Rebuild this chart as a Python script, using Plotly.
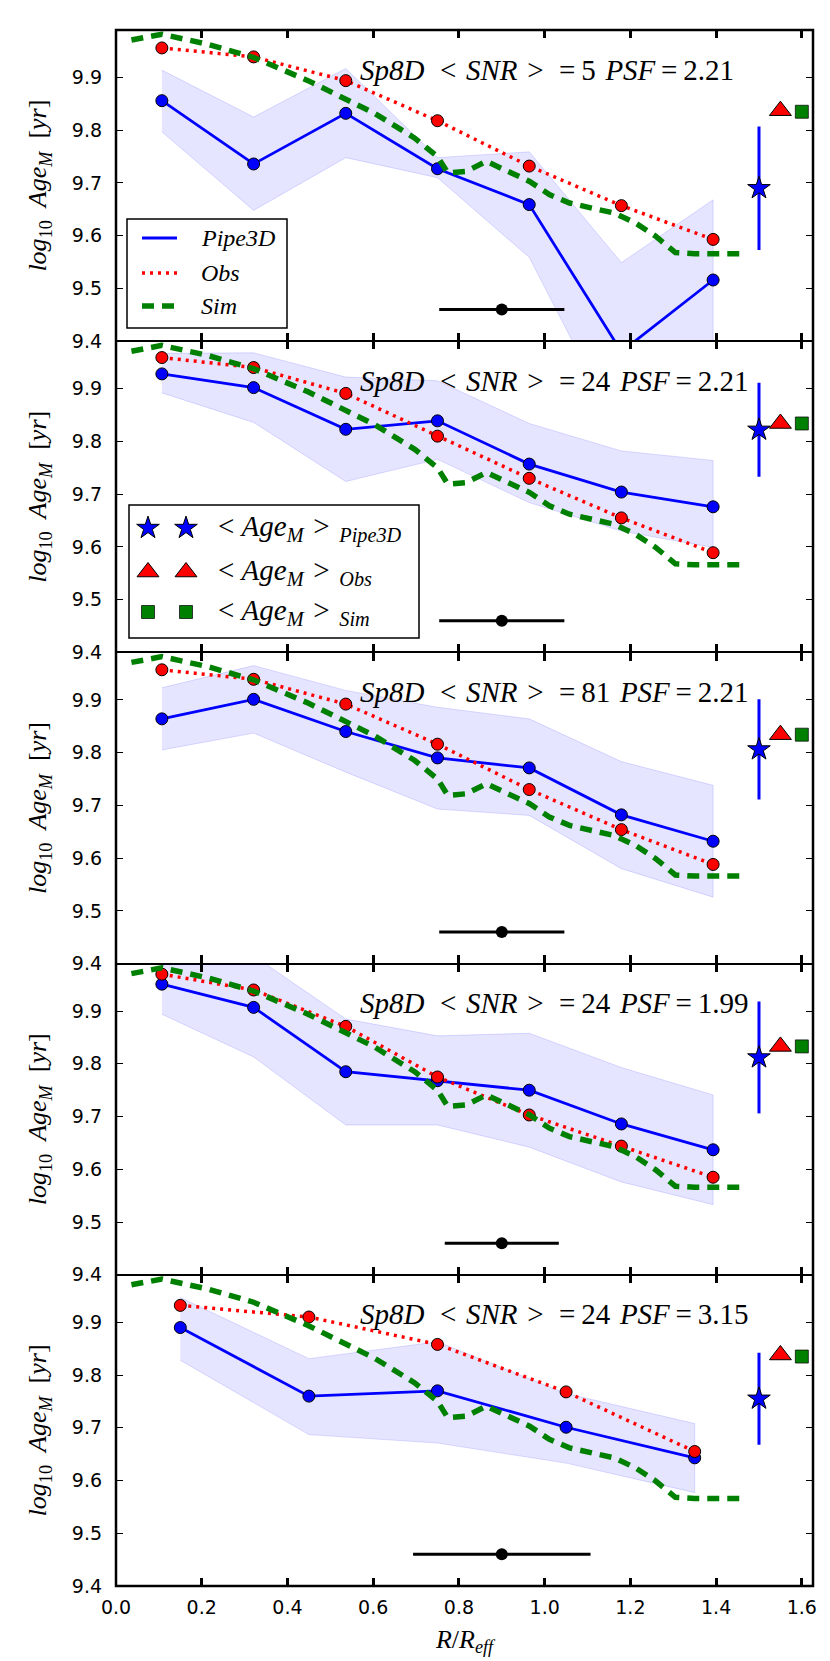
import plotly.graph_objects as go

# ---------------- data ----------------
R7 = [0.107, 0.321, 0.536, 0.750, 0.964, 1.179, 1.393]
R5 = [0.15, 0.45, 0.75, 1.05, 1.35]

SNR = [5, 24, 81, 24, 24]
PSF = [2.21, 2.21, 2.21, 1.99, 3.15]

PIPE_1 = [9.856, 9.736, 9.832, 9.727, 9.659, 9.380, 9.516]
OBS_1 = [9.956, 9.939, 9.894, 9.818, 9.732, 9.657, 9.593]
UP_1 = [9.914, 9.825, 9.917, 9.748, 9.759, 9.549, 9.668]
LO_1 = [9.797, 9.648, 9.748, 9.710, 9.559, 9.220, 9.300]

PIPE_2 = [9.928, 9.902, 9.823, 9.839, 9.757, 9.704, 9.676]
OBS_2 = [9.959, 9.940, 9.891, 9.810, 9.730, 9.655, 9.589]
UP_2 = [9.967, 9.968, 9.922, 9.915, 9.834, 9.782, 9.764]
LO_2 = [9.892, 9.836, 9.724, 9.766, 9.684, 9.630, 9.599]

PIPE_3 = [9.864, 9.901, 9.840, 9.790, 9.771, 9.682, 9.632]
OBS_3 = [9.957, 9.939, 9.892, 9.816, 9.730, 9.654, 9.588]
UP_3 = [9.923, 9.965, 9.918, 9.886, 9.864, 9.783, 9.738]
LO_3 = [9.805, 9.837, 9.763, 9.693, 9.681, 9.580, 9.526]

PIPE_4 = [9.951, 9.907, 9.785, 9.768, 9.750, 9.686, 9.637]
OBS_4 = [9.970, 9.940, 9.871, 9.775, 9.703, 9.644, 9.585]
UP_4 = [10.010, 10.005, 9.885, 9.853, 9.858, 9.793, 9.741]
LO_4 = [9.894, 9.813, 9.684, 9.684, 9.642, 9.576, 9.533]

PIPE_5 = [9.890, 9.760, 9.770, 9.701, 9.643]
OBS_5 = [9.932, 9.910, 9.858, 9.768, 9.655]
UP_5 = [9.947, 9.831, 9.863, 9.765, 9.708]
LO_5 = [9.828, 9.687, 9.671, 9.633, 9.577]

SIM_R = [0.036, 0.107, 0.214, 0.321, 0.448, 0.536, 0.603, 0.697, 0.750, 0.774,
         0.817, 0.864, 0.918, 0.965, 1.011, 1.058, 1.112, 1.162, 1.212, 1.259,
         1.305, 1.350, 1.464]
SIM_AGE = [9.971, 9.982, 9.963, 9.938, 9.894, 9.858, 9.832, 9.785, 9.750, 9.719,
           9.722, 9.741, 9.722, 9.703, 9.678, 9.662, 9.652, 9.643, 9.624, 9.599,
           9.568, 9.566, 9.566]

MEAN_R = [1.50, 1.55, 1.60]            # star, triangle, square positions
MEAN_PIPE = [9.690, 9.822, 9.806, 9.812, 9.755]
MEAN_PIPE_ERR = [0.117, 0.089, 0.095, 0.106, 0.087]
MEAN_OBS = [9.837, 9.834, 9.834, 9.833, 9.838]
MEAN_SIM = [9.835, 9.834, 9.834, 9.833, 9.835]

PSF_R = 0.9
PSF_Y = 9.46
PSF_HALF = [0.146, 0.146, 0.146, 0.133, 0.207]

PANELS = [
    (R7, PIPE_1, OBS_1, UP_1, LO_1),
    (R7, PIPE_2, OBS_2, UP_2, LO_2),
    (R7, PIPE_3, OBS_3, UP_3, LO_3),
    (R7, PIPE_4, OBS_4, UP_4, LO_4),
    (R5, PIPE_5, OBS_5, UP_5, LO_5),
]

# ---------------- style ----------------
BLUE = "#0000ff"
RED = "#ff0000"
GREEN = "#008000"
SERIF = "Liberation Serif"
SANS = "DejaVu Sans"
W, H = 830, 1661
ML, MR, MT, MB = 108, 25, 22, 83
N = 5
YR = [9.4, 9.99]
XR = [0, 1.626]
LW = 1.25  # each axis line; two adjacent panels add up at the shared border

RED_DASH = "3px,5px"
GREEN_DASH = "12px,8px"

S3 = "\u2004"   # three-per-em space
TH = "\u2009"   # thin space

fig = go.Figure()


def ax_names(i):
    s = "" if i == 0 else str(i + 1)
    return "x" + s, "y" + s, "xaxis" + s, "yaxis" + s


for i, (r, pipe, obs, up, lo) in enumerate(PANELS):
    xa, ya, xname, yname = ax_names(i)
    # band
    fig.add_trace(go.Scatter(
        x=list(r) + list(r)[::-1], y=list(up) + list(lo)[::-1],
        fill="toself", fillcolor="rgba(0,0,255,0.10)",
        line=dict(color="rgba(0,0,255,0.13)", width=1),
        mode="lines", hoverinfo="skip", showlegend=False, xaxis=xa, yaxis=ya))
    # Pipe3D
    fig.add_trace(go.Scatter(
        x=r, y=pipe, mode="lines+markers",
        line=dict(color=BLUE, width=2.8),
        marker=dict(symbol="circle", size=12, color=BLUE, line=dict(color="black", width=1)),
        showlegend=False, xaxis=xa, yaxis=ya))
    # Obs
    fig.add_trace(go.Scatter(
        x=r, y=obs, mode="lines+markers",
        line=dict(color=RED, width=3.5, dash=RED_DASH),
        marker=dict(symbol="circle", size=12, color=RED, line=dict(color="black", width=1)),
        showlegend=False, xaxis=xa, yaxis=ya))
    # Sim
    fig.add_trace(go.Scatter(
        x=SIM_R, y=SIM_AGE, mode="lines",
        line=dict(color=GREEN, width=5.5, dash=GREEN_DASH),
        showlegend=False, xaxis=xa, yaxis=ya))
    # mean values
    fig.add_trace(go.Scatter(
        x=[MEAN_R[0]], y=[MEAN_PIPE[i]], mode="markers",
        error_y=dict(type="data", array=[MEAN_PIPE_ERR[i]], color=BLUE, thickness=3, width=0),
        marker=dict(symbol="star", size=17, color=BLUE, line=dict(color="black", width=1)),
        showlegend=False, xaxis=xa, yaxis=ya))
    fig.add_trace(go.Scatter(
        x=[MEAN_R[1]], y=[MEAN_OBS[i]], mode="markers",
        marker=dict(symbol="triangle-up", size=19, color=RED, line=dict(color="black", width=1)),
        showlegend=False, xaxis=xa, yaxis=ya))
    fig.add_trace(go.Scatter(
        x=[MEAN_R[2]], y=[MEAN_SIM[i]], mode="markers",
        marker=dict(symbol="square", size=13, color=GREEN, line=dict(color="black", width=0.7)),
        showlegend=False, xaxis=xa, yaxis=ya))
    # PSF bar
    fig.add_trace(go.Scatter(
        x=[PSF_R], y=[PSF_Y], mode="markers",
        error_x=dict(type="data", array=[PSF_HALF[i]], color="black", thickness=3, width=0),
        marker=dict(symbol="circle", size=12, color="black"),
        showlegend=False, xaxis=xa, yaxis=ya))

    d0 = 1 - (i + 1) / N
    d1 = 1 - i / N
    fig.update_layout(**{
        xname: dict(domain=[0, 1], anchor=ya, range=XR, tickmode="array",
                    tickvals=[0, 0.2, 0.4, 0.6, 0.8, 1.0, 1.2, 1.4, 1.6],
                    ticktext=["0.0", "0.2", "0.4", "0.6", "0.8", "1.0", "1.2", "1.4", "1.6"],
                    showticklabels=(i == N - 1), ticks="inside", ticklen=8, tickwidth=3,
                    tickcolor="black", showline=True, linecolor="black", linewidth=LW,
                    mirror="ticks", showgrid=False, zeroline=False,
                    tickfont=dict(family=SANS, size=19, color="black"),
                    ticklabelstandoff=4,
                    title=dict(text="<i>R</i>/<i>R</i><sub><i>eff</i></sub>" if i == N - 1 else "",
                               font=dict(family=SERIF, size=26, color="black"), standoff=12)),
        yname: dict(domain=[d0, d1], anchor=xa, range=YR, tickmode="array",
                    tickvals=[9.4, 9.5, 9.6, 9.7, 9.8, 9.9],
                    ticktext=["9.4", "9.5", "9.6", "9.7", "9.8", "9.9"],
                    ticks="inside", ticklen=7, tickwidth=1, tickcolor="black",
                    showline=True, linecolor="black", linewidth=LW, mirror="ticks",
                    showgrid=False, zeroline=False,
                    tickfont=dict(family=SANS, size=19, color="black"),
                    ticklabelstandoff=9,
                    title=dict(text="<i>log</i><sub>10</sub>  <i>Age</i><sub><i>M</i></sub>  [<i>yr</i>]",
                               font=dict(family=SERIF, size=26, color="black"), standoff=17)),
    })
    fig.add_annotation(
        x=0.565, y=9.915, xref=xa, yref=ya, xanchor="left", yanchor="middle", showarrow=False,
        text=("<i>Sp8D</i>" + S3 + TH + "&lt;" + S3 + "<i>SNR</i>" + S3 + "&gt;" + S3 + TH + "="
              + TH + "%d" % SNR[i] + S3 + "<i>PSF</i>" + TH + "=" + TH + "%.2f" % PSF[i]),
        font=dict(family=SERIF, size=29, color="black"))

# outer frame (same width as the shared borders)
fig.add_shape(type="rect", xref="paper", yref="paper", x0=0, y0=0, x1=1, y1=1,
              line=dict(color="black", width=2 * LW), layer="above")

# ---------------- legends (overlay axis in pixel units) ----------------
fig.update_layout(
    xaxis6=dict(domain=[0, 1], anchor="y6", range=[ML, W - MR], visible=False),
    yaxis6=dict(domain=[0, 1], anchor="x6", range=[H - MB, MT], visible=False),
)

LEG1_BOX = (119, 211, 279, 320)
LEG1_ROWS = [230, 265, 298]
LEG1_LINE_X = (134, 169)
LEG1_TEXT_X = 191
LEG1_LABELS = ["<i>Pipe3D</i>", "<i>Obs</i>", "<i>Sim</i>"]
LEG1_STYLES = [dict(color=BLUE, width=2.8),
               dict(color=RED, width=3.5, dash=RED_DASH),
               dict(color=GREEN, width=5.5, dash=GREEN_DASH)]

LEG2_BOX = (121, 497, 411, 630)
LEG2_ROWS = [520, 564, 604]
LEG2_MARK_X = [140, 178]
LEG2_TEXT_X = 208
LEG2_SUBS = ["Pipe3D", "Obs", "Sim"]
LEG2_MARKERS = [dict(symbol="star", size=17, color=BLUE, line=dict(color="black", width=1)),
                dict(symbol="triangle-up", size=19, color=RED, line=dict(color="black", width=1)),
                dict(symbol="square", size=13, color=GREEN, line=dict(color="black", width=0.7))]

for box in (LEG1_BOX, LEG2_BOX):
    fig.add_shape(type="rect", xref="x6", yref="y6", x0=box[0], y0=box[1], x1=box[2], y1=box[3],
                  line=dict(color="black", width=1.5), fillcolor="white", layer="below")

for row, lab, sty in zip(LEG1_ROWS, LEG1_LABELS, LEG1_STYLES):
    fig.add_trace(go.Scatter(x=list(LEG1_LINE_X), y=[row, row], mode="lines", line=sty,
                             showlegend=False, xaxis="x6", yaxis="y6", cliponaxis=False))
    fig.add_annotation(x=LEG1_TEXT_X, y=row, xref="x6", yref="y6", xanchor="left", yanchor="middle",
                       showarrow=False, text=lab, font=dict(family=SERIF, size=24, color="black"))

for row, sub, mk in zip(LEG2_ROWS, LEG2_SUBS, LEG2_MARKERS):
    fig.add_trace(go.Scatter(x=LEG2_MARK_X, y=[row, row], mode="markers", marker=mk,
                             showlegend=False, xaxis="x6", yaxis="y6", cliponaxis=False))
    lab = ("&lt; <i>Age</i><sub><i>M</i></sub>" + S3 + "&gt;" + S3
           + "<sub><i>%s</i></sub>" % sub)
    fig.add_annotation(x=LEG2_TEXT_X, y=row, xref="x6", yref="y6", xanchor="left", yanchor="middle",
                       showarrow=False, text=lab, font=dict(family=SERIF, size=29, color="black"))

fig.update_layout(
    width=W, height=H,
    margin=dict(l=ML, r=MR, t=MT, b=MB, autoexpand=False),
    paper_bgcolor="white", plot_bgcolor="rgba(0,0,0,0)",
    showlegend=False,
)

fig.write_html("out.html")
